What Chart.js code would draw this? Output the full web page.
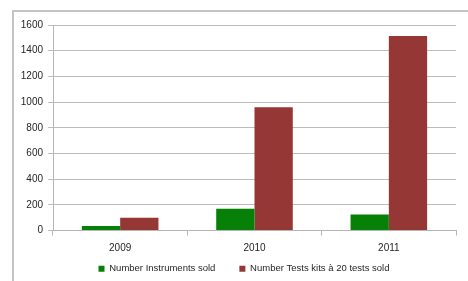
<!DOCTYPE html>
<html>
<head>
<meta charset="utf-8">
<script src="https://cdn.jsdelivr.net/npm/chart.js@4"></script>
<style>
  html, body { margin: 0; padding: 0; background: #fff; }
  #wrap { position: relative; width: 468px; height: 281px; overflow: hidden; }
  #frame { position: absolute; left: 12px; top: 10px; width: 500px; height: 300px;
           border-left: 2px solid #c4c4c4; border-top: 2px solid #c4c4c4; }
  canvas { position: absolute; left: 0; top: 0; }
</style>
</head>
<body>
<div id="wrap">
  <div id="frame"></div>
  <canvas id="chart" width="468" height="281"></canvas>
</div>
<script>
// values
const years = ['2009', '2010', '2011'];
const instrumentsSold = [35, 170, 125];
const testKitsSold = [100, 960, 1515];
const yTicks = [0, 200, 400, 600, 800, 1000, 1200, 1400, 1600];

const ctx = document.getElementById('chart').getContext('2d');
Chart.defaults.font.family = '"Liberation Sans", Arial, sans-serif';
Chart.defaults.color = '#262626';

// move the legend box a bit to the right and down, like the excel original
const legendPlace = {
    id: 'legendPlace',
    afterLayout(chart) {
        const lg = chart.legend;
        lg.left = 32;
        lg.top = 240;
    }
};

new Chart(ctx, {
    type: 'bar',
    data: {
        labels: years,
        datasets: [{
            label: 'Number Instruments sold',
            data: instrumentsSold,
            backgroundColor: '#068006',
            barPercentage: 1.0,
            categoryPercentage: 0.57
        }, {
            label: 'Number Tests kits à 20 tests sold',
            data: testKitsSold,
            backgroundColor: '#953735',
            barPercentage: 1.0,
            categoryPercentage: 0.57
        }]
    },
    plugins: [legendPlace],
    options: {
        responsive: false,
        animation: false,
        layout: { padding: { left: 0, right: 12, top: 25, bottom: 0 } },
        plugins: {
            tooltip: { enabled: false },
            legend: {
                position: 'bottom',
                maxHeight: 20,
                labels: {
                    boxWidth: 6,
                    boxHeight: 6,
                    padding: 24,
                    font: { size: 9.5 },
                    color: '#262626'
                }
            }
        },
        scales: {
            x: {
                grid: {
                    display: true,
                    drawOnChartArea: false,
                    color: '#b5b5b5',
                    tickLength: 5,
                    tickColor: '#b5b5b5'
                },
                border: { color: '#b5b5b5' },
                ticks: { font: { size: 10 }, padding: 7 },
                afterFit: function(scale) { scale.height = 30.5; }
            },
            y: {
                min: 0,
                max: 1600,
                afterBuildTicks: function(scale) {
                    scale.ticks = yTicks.map(v => ({ value: v }));
                },
                grid: {
                    color: '#bcbcbc',
                    tickLength: 5,
                    tickColor: '#bcbcbc'
                },
                border: { color: '#b5b5b5' },
                ticks: {
                    font: { size: 10 },
                    padding: 5,
                    callback: v => String(v)
                },
                afterFit: function(scale) { scale.width = 53; }
            }
        }
    }
});
</script>
</body>
</html>
